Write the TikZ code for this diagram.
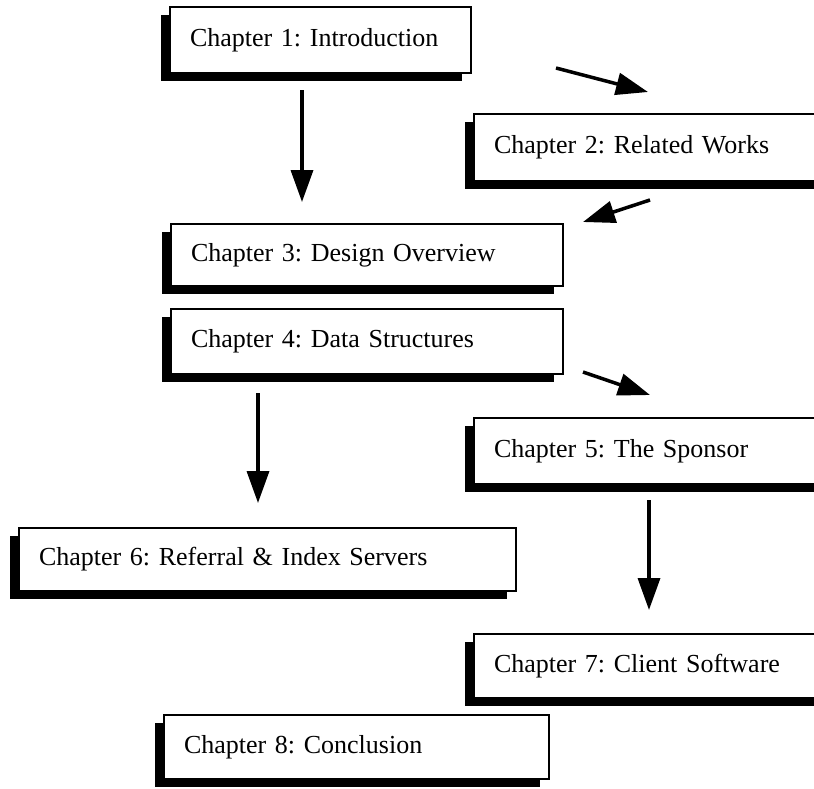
\documentclass[tikz,border=0pt]{standalone}
\usepackage{fontspec}
\setmainfont{Liberation Serif}
\usetikzlibrary{arrows.meta,shadows}
\begin{document}
\frenchspacing
\begin{tikzpicture}[x=1pt,y=-1pt,
  chbox/.style={draw=black, line width=2pt, fill=white, anchor=north west,
    inner xsep=20pt, inner ysep=0pt, align=left,
    font=\fontsize{26}{30}\selectfont,
    drop shadow={shadow xshift=-9pt, shadow yshift=-8pt, fill=black, opacity=1}},
  flow/.style={line width=3.5pt, -{Triangle[length=32pt,width=22pt]}}]
\useasboundingbox (0,0) rectangle (814,788);
\clip (0,0) rectangle (814,788);
\node[chbox, minimum width=301pt, text width=261pt, minimum height=66pt] (c1) at (169,6) {\mbox{Chapter 1: Introduction}};
\node[chbox, minimum width=367pt, text width=327pt, minimum height=67pt] (c2) at (473,113) {\mbox{Chapter 2: Related Works}};
\node[chbox, minimum width=392pt, text width=352pt, minimum height=62pt] (c3) at (170,223) {\mbox{Chapter 3: Design Overview}};
\node[chbox, minimum width=392pt, text width=352pt, minimum height=65pt] (c4) at (170,308) {\mbox{Chapter 4: Data Structures}};
\node[chbox, minimum width=367pt, text width=327pt, minimum height=66pt] (c5) at (473,417) {\mbox{Chapter 5: The Sponsor}};
\node[chbox, minimum width=497pt, text width=457pt, minimum height=63pt] (c6) at (18,527) {\mbox{Chapter 6: Referral \& Index Servers}};
\node[chbox, minimum width=367pt, text width=327pt, minimum height=64pt] (c7) at (473,633) {\mbox{Chapter 7: Client Software}};
\node[chbox, minimum width=385pt, text width=345pt, minimum height=64pt] (c8) at (163,714) {\mbox{Chapter 8: Conclusion}};
% arrow end points
\coordinate (a1s) at (302,90);  \coordinate (a1e) at (302,202);
\coordinate (a2s) at (556,68);  \coordinate (a2e) at (648,92);
\coordinate (a3s) at (650,200); \coordinate (a3e) at (583,222);
\coordinate (a4s) at (258,393); \coordinate (a4e) at (258,503);
\coordinate (a5s) at (583,372); \coordinate (a5e) at (650,395);
\coordinate (a6s) at (649,500); \coordinate (a6e) at (649,610);
\draw[flow] (a1s) -- (a1e);
\draw[flow] (a2s) -- (a2e);
\draw[flow] (a3s) -- (a3e);
\draw[flow] (a4s) -- (a4e);
\draw[flow] (a5s) -- (a5e);
\draw[flow] (a6s) -- (a6e);
\end{tikzpicture}
\end{document}
